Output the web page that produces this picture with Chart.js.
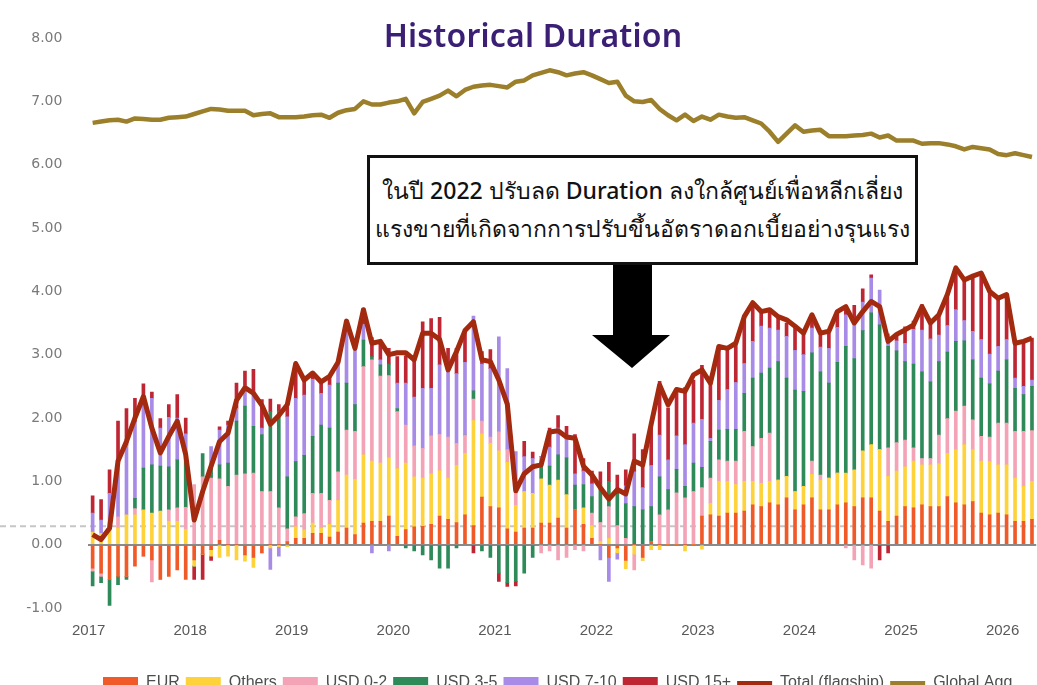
<!DOCTYPE html>
<html>
<head>
<meta charset="utf-8">
<title>Historical Duration</title>
<script src="https://cdn.jsdelivr.net/npm/chart.js@4.4.1/dist/chart.umd.min.js"></script>
<style>
  html, body { margin: 0; padding: 0; background: #fff; overflow: hidden; }
  #wrap { position: relative; width: 1046px; height: 706px; }
  #chart-area { position: absolute; left: 0; top: 0; }
  .title {
    position: absolute; left: 0; top: 13px; width: 1066px; text-align: center;
    font: 600 32px "Noto Sans", sans-serif; color: #3b1f74; letter-spacing: 0.2px;
  }
  .note {
    position: absolute; left: 367px; top: 155px; width: 551px; height: 110px;
    box-sizing: border-box; border: 3px solid #111; background: #fff;
    padding-top: 13px; text-align: center; color: #111;
    font: 500 23px "Noto Sans", sans-serif; line-height: 38px; white-space: nowrap;
  }
  #arrow { position: absolute; left: 0; top: 0; pointer-events: none; }
</style>
</head>
<body>
<div id="wrap">
  <canvas id="chart-area" width="1046" height="706"></canvas>
  <div class="title">Historical Duration</div>
  <div class="note">ในปี 2022 ปรับลด Duration ลงใกล้ศูนย์เพื่อหลีกเลี่ยง<br>แรงขายที่เกิดจากการปรับขึ้นอัตราดอกเบี้ยอย่างรุนแรง</div>
  <svg id="arrow" width="1046" height="706">
    <polygon points="613,265 652,265 652,335 670,335 632,368 592,335 613,335" fill="#000"/>
  </svg>
</div>
<script>
// monthly categories, Jan 2017 onwards
var years = ['2017', '2018', '2019', '2020', '2021', '2022', '2023', '2024', '2025', '2026'];
var months = [];
years.forEach(function (y) {
  for (var m = 1; m <= 12; m++) months.push(y + '-' + (m < 10 ? '0' + m : m));
});
months = months.slice(0, 112);

var eur = [
  -0.37,-0.45,-0.55,-0.5,-0.5,-0.34,-0.18,-0.24,-0.55,-0.5,-0.4,-0.55,
  -0.24,-0.15,-0.08,0.07,0,0,-0.16,-0.2,-0.13,0,0,0.05,
  0.1,0.1,0.18,0.18,0.12,0.2,0.26,0.16,0.34,0.37,0.37,0.45,
  0.13,0.24,0.28,0.29,0.32,0.45,0.4,0.35,0.47,0.3,0.75,0.6,
  0.58,0.25,0.2,0.26,0.26,0.34,0.34,0.42,0.26,0.55,0.32,0.1,
  0,-0.2,-0.05,-0.25,0,-0.2,0.05,0,0,0,0,0,
  0.45,0.47,0.45,0.5,0.5,0.53,0.63,0.6,0.66,0.63,0.74,0.55,
  0.63,0.74,0.55,0.55,0.63,0.66,0.6,0.74,0.74,0.53,0.37,0.45,
  0.6,0.58,0.63,0.6,0.6,0.76,0.66,0.63,0.68,0.5,0.47,0.5,
  0.47,0.37,0.37,0.4
];
var others = [
  0.2,0.18,0.26,0.26,0.47,0.47,0.55,0.5,0.53,0.37,0.37,0.24,
  -0.1,0,-0.1,-0.2,-0.18,-0.24,-0.1,-0.16,0,-0.05,-0.03,-0.03,
  0.18,0.13,0.16,0.08,0.2,0.5,0.84,0.87,1.08,0.95,0.92,0.92,
  1.07,1.05,0.79,0.76,0.8,0.72,0.65,0.9,0.97,1.66,1.0,1.0,
  0.9,1.05,0.42,0.58,0.55,0.7,0.6,0.6,0.53,0,0.26,0.2,
  0.05,0.1,-0.08,-0.13,-0.15,-0.05,-0.08,-0.08,0,0,-0.1,0,
  -0.07,0.18,0.55,0.5,0.45,0.47,0.37,0.37,0.34,0.39,0.34,0.29,
  0.29,0.37,0.47,0.5,0.5,0.47,0.58,0.74,0.84,0.97,0.71,0.71,
  0.63,0.74,0.63,0.66,0.68,0.68,0.84,0.95,0.82,0.82,0.84,0.76,
  0.79,0.68,0.55,0.6
];
var usd02 = [
  -0.05,-0.05,0.05,0.18,0,0.1,0,-0.35,0,0.18,0.21,0.35,
  0.95,1.07,1.05,0.97,0.92,1.1,1.12,1.13,0.84,0.84,0.58,0.2,
  0.16,0.26,0.47,0.55,0.38,0.45,0.71,0.76,1.39,1.6,1.37,1.3,
  0.9,0.6,0.49,0.47,0.6,0.57,0.65,0.35,0.29,0.34,0.2,0.1,
  0.3,0.2,0.2,0,0,-0.13,-0.1,-0.24,-0.2,-0.08,-0.1,0.2,
  0.3,0.5,0.3,0.1,-0.25,0,0,0.47,0.55,0.82,0.74,0.84,
  0.45,0.4,0.34,0.32,0.37,0.79,0.55,0.71,0.76,0,0,0,
  0,0.21,0.08,0,0,-0.05,-0.24,-0.32,-0.37,0,0.45,0.45,
  0.42,0.21,0.1,0.1,0.45,0.55,0.61,0.61,0.47,0.39,0.39,0.66,
  0.66,0.74,0.87,0.8
];
var usd35 = [
  -0.23,-0.1,-0.41,-0.13,-0.05,0.16,0.66,0.76,0.71,0.68,0.76,0.76,
  0,0.37,0.2,0.22,0.37,0.85,1.07,0.74,0.9,1.26,1.53,0.82,
  0.87,0.92,0.9,1.08,1.14,1.4,0.74,0.42,0.42,0.05,0.18,0.18,
  0.05,-0.05,-0.1,-0.16,-0.24,-0.37,-0.37,-0.05,0,0.13,-0.1,-0.2,
  -0.45,-0.6,-0.58,-0.45,-0.2,0.25,0.3,0.4,0.58,0.39,0.37,0.26,
  0.6,0.4,0.5,0.55,0.6,0.55,0.55,0.6,0.32,0.37,0.18,0.45,
  0.32,0.58,0.47,0.5,0.5,0.6,1.08,1.03,1.03,1.87,1.55,1.6,
  1.5,1.71,1.63,1.5,1.75,2.0,1.76,1.9,2.08,1.97,1.6,1.45,
  1.24,1.32,1.37,1.21,1.16,1.05,1.1,1.03,0.95,0.92,0.84,0.82,
  1.0,0.68,0.58,0.7
];
var usd710 = [
  0.3,0.21,0.5,0.92,1.1,1.21,1.13,1.05,0.6,0.78,0.66,0.4,
  0,0,0.3,0.55,0.6,0.2,0.32,0.55,0.1,-0.34,-0.15,0.95,
  1.0,0.95,0.9,0.5,0.68,0.3,0.95,0.92,0.25,-0.13,0.08,-0.1,
  0.4,0.66,0.77,0.95,0.75,1.1,1.1,1.1,1.15,1.18,0.9,1.08,
  1.5,1.28,0.65,0.55,0.55,0.1,0.3,0.42,0.3,0.18,0.21,0.2,
  -0.24,-0.38,-0.1,0.28,0.55,0.35,0.65,0.66,0.47,0.53,0.66,0.63,
  0.76,0.05,0.47,0.63,0.74,0.47,0.58,0.74,0.63,0.5,0.66,0.63,
  0.58,0.39,0.39,0.55,0.55,0.5,0.58,0.45,0.55,0.55,0.2,0.16,
  0.29,0.55,0.66,0.68,0.42,0.42,0.5,0.32,0.45,0.61,0.47,0.39,
  0.32,0.16,0.13,0.1
];
var usd15 = [
  0.27,0.32,0.37,0.59,0.58,0.37,0.2,0.1,0.15,0.2,0.37,0.25,
  -0.21,-0.4,-0.07,0.05,0.06,0.4,0.23,0.35,0.45,0.2,0.1,0.15,
  0.55,0.24,0.1,0.19,0.12,0.03,0,0,0.25,0.3,0.28,0.25,
  0.42,0.43,0.65,1.05,1.1,0.75,0.3,0.4,0.5,-0.13,0.2,0.3,
  -0.13,-0.06,-0.07,0.24,0.1,0,0.3,0.2,0.2,0.62,0.2,0.2,
  0.2,0.3,0.3,0.25,0.6,0.6,0.6,0.85,0.82,0.68,0.9,0.68,
  0.85,0.87,0.84,0.66,0.6,0.75,0.58,0.24,0.26,0.2,0.21,0.37,
  0.34,0.16,0.24,0.24,0.25,0.13,0.26,0.21,0.05,-0.24,-0.13,0.1,
  0.26,0.13,0.4,0.24,0.32,0.45,0.66,0.66,0.87,1.05,0.97,0.76,
  0.71,0.55,0.71,0.66
];
var totalFlagship = [
  0.16,0.08,0.26,1.32,1.63,2.0,2.34,1.84,1.45,1.71,1.95,1.42,
  0.39,0.84,1.24,1.63,1.76,2.28,2.48,2.39,2.2,1.9,2.04,2.21,
  2.86,2.6,2.71,2.57,2.66,2.88,3.53,3.1,3.71,3.18,3.21,3.0,
  3.03,3.03,2.92,3.34,3.34,3.24,2.76,3.05,3.38,3.52,2.92,2.89,
  2.6,2.22,0.85,1.12,1.23,1.26,1.78,1.8,1.7,1.68,1.24,1.1,
  0.9,0.72,0.87,0.8,1.32,1.26,1.9,2.52,2.21,2.45,2.42,2.68,
  2.76,2.55,3.13,3.1,3.18,3.6,3.82,3.68,3.71,3.6,3.55,3.45,
  3.34,3.63,3.34,3.37,3.68,3.76,3.5,3.68,3.84,3.76,3.21,3.32,
  3.39,3.47,3.76,3.5,3.63,3.95,4.37,4.18,4.24,4.29,4.0,3.89,
  3.95,3.18,3.21,3.26
];
var globalAgg = [
  6.66,6.68,6.70,6.71,6.68,6.73,6.72,6.71,6.71,6.74,6.75,6.76,
  6.80,6.84,6.88,6.87,6.85,6.85,6.85,6.78,6.80,6.81,6.75,6.75,
  6.75,6.76,6.78,6.79,6.74,6.82,6.86,6.88,7.00,6.95,6.95,6.98,
  7.00,7.04,6.81,6.99,7.04,7.09,7.17,7.08,7.18,7.23,7.25,7.26,
  7.24,7.22,7.31,7.33,7.41,7.45,7.49,7.46,7.41,7.44,7.46,7.41,
  7.35,7.29,7.31,7.09,7.00,6.99,7.02,6.88,6.78,6.70,6.79,6.69,
  6.76,6.71,6.79,6.76,6.74,6.75,6.70,6.65,6.52,6.36,6.49,6.62,
  6.52,6.54,6.55,6.45,6.45,6.45,6.46,6.47,6.49,6.43,6.46,6.38,
  6.38,6.38,6.33,6.34,6.34,6.32,6.29,6.24,6.28,6.26,6.24,6.17,
  6.15,6.18,6.15,6.12
];
var dashedLevel = 0.29;

function barSet(label, data, color) {
  return { type: 'bar', label: label, data: data, backgroundColor: color,
           barThickness: 3, stack: 'bars', order: 2 };
}

// grey dashed reference line running across the full width
var refLine = {
  id: 'refLine',
  beforeDatasetsDraw: function (chart) {
    var y = chart.scales.y.getPixelForValue(dashedLevel);
    var ctx = chart.ctx;
    ctx.save();
    ctx.strokeStyle = '#c6c6c6';
    ctx.lineWidth = 2;
    ctx.setLineDash([6, 4]);
    ctx.beginPath();
    ctx.moveTo(0, y);
    ctx.lineTo(chart.width, y);
    ctx.stroke();
    ctx.restore();
  }
};

// legend row starts further right, like the original export
var legendShift = {
  id: 'legendShift',
  afterLayout: function (chart) {
    chart.legend.left += 97;
    chart.legend.right += 97;
  }
};

new Chart(document.getElementById('chart-area'), {
  data: {
    labels: months,
    datasets: [
      barSet('EUR', eur, '#f05a28'),
      barSet('Others', others, '#fdd23a'),
      barSet('USD 0-2', usd02, '#f4a3b6'),
      barSet('USD 3-5', usd35, '#2f8a5a'),
      barSet('USD 7-10', usd710, '#a78be6'),
      barSet('USD 15+', usd15, '#bf2634'),
      { type: 'line', label: 'Total (flagship)', data: totalFlagship, borderColor: '#a3290f',
        backgroundColor: '#a3290f', borderWidth: 5, pointRadius: 0, tension: 0,
        borderJoinStyle: 'round', stack: 'total', order: 1 },
      { type: 'line', label: 'Global Agg', data: globalAgg, borderColor: '#9c7f2b',
        backgroundColor: '#9c7f2b', borderWidth: 4.5, pointRadius: 0, tension: 0,
        borderJoinStyle: 'round', stack: 'agg', order: 1 }
    ]
  },
  options: {
    responsive: false,
    animation: false,
    layout: { padding: { top: 38, right: 4.5, bottom: 5, left: 0 } },
    plugins: {
      tooltip: { enabled: false },
      legend: {
        position: 'bottom',
        align: 'start',
        labels: {
          usePointStyle: true,
          pointStyleWidth: 35,
          boxHeight: 12,
          padding: 6,
          color: '#4d4d4d',
          font: { family: "'Liberation Sans', sans-serif", size: 16 },
          sort: function (a, b) { return a.datasetIndex - b.datasetIndex; },
          generateLabels: function (chart) {
            var items = Chart.defaults.plugins.legend.labels.generateLabels(chart);
            items.forEach(function (it) {
              var ds = chart.data.datasets[it.datasetIndex];
              if (ds.type === 'line') {
                it.pointStyle = 'line';
                it.strokeStyle = ds.borderColor;
                it.lineWidth = 4;
              } else {
                it.pointStyle = 'rect';
                it.lineWidth = 0;
              }
            });
            return items;
          }
        }
      }
    },
    scales: {
      x: {
        stacked: true,
        grid: { display: false, drawTicks: false },
        border: { display: false },
        ticks: {
          autoSkip: false, maxRotation: 0, padding: 14, labelOffset: -4,
          color: '#595959',
          font: { family: "'Liberation Sans Narrow', 'Liberation Sans', sans-serif", size: 15 },
          callback: function (v, i) {
            var m = months[i];
            return m.slice(5) === '01' ? m.slice(0, 4) : '';
          }
        },
        afterFit: function (s) { s.height = 61; }
      },
      y: {
        stacked: true,
        min: -1,
        max: 8,
        grid: {
          drawTicks: false,
          lineWidth: 2,
          color: function (c) { return c.tick && c.tick.value === 0 ? '#8a8a8a' : 'rgba(0,0,0,0)'; }
        },
        border: { display: false },
        ticks: {
          stepSize: 1, padding: 26, color: '#7a7a7a',
          font: { family: "'DejaVu Sans', sans-serif", size: 14 },
          callback: function (v) { return v.toFixed(2); }
        },
        afterFit: function (s) { s.width = 88.4; }
      }
    }
  },
  plugins: [refLine, legendShift]
});
</script>
</body>
</html>
